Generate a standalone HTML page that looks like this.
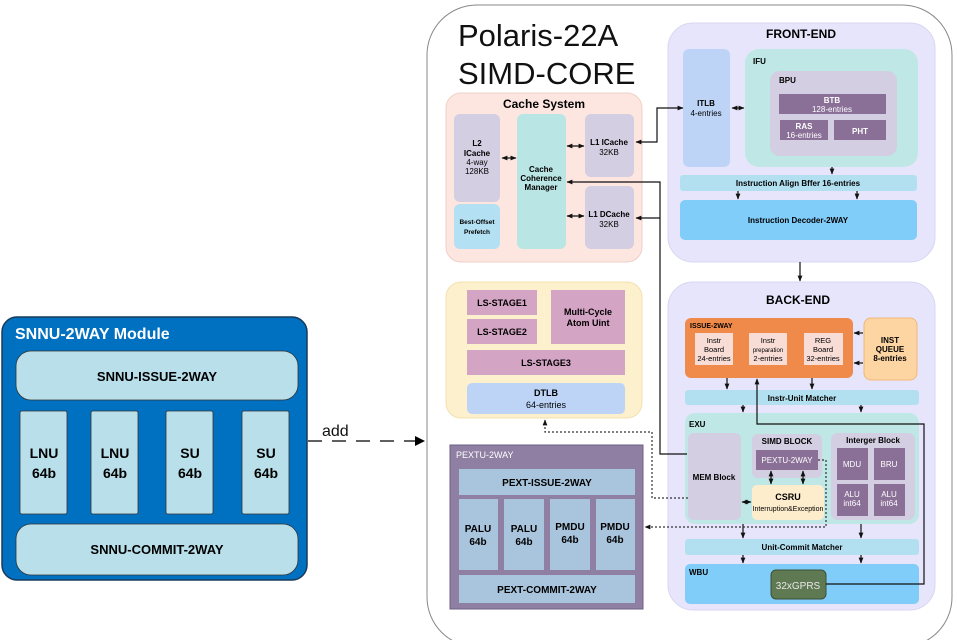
<!DOCTYPE html>
<html><head><meta charset="utf-8"><style>
html,body{margin:0;padding:0;background:#fff;width:957px;height:640px;overflow:hidden;}
svg{display:block;font-family:"Liberation Sans",Arial,sans-serif;}
.b{font-weight:bold;}
</style></head><body>
<svg width="957" height="640" viewBox="0 0 957 640" xmlns="http://www.w3.org/2000/svg">
<defs>
<marker id="a" viewBox="0 0 10 10" refX="9" refY="5" markerWidth="5" markerHeight="5" orient="auto-start-reverse"><path d="M0,1 L10,5 L0,9 z" fill="#111"/></marker>
<marker id="big" viewBox="0 0 10 10" refX="10" refY="5" markerWidth="14" markerHeight="10" markerUnits="userSpaceOnUse" orient="auto"><path d="M0,0 L10,5 L0,10 z" fill="#000"/></marker>
</defs>
<!-- outer core -->
<rect x="427" y="5" width="525" height="642" rx="50" fill="#fff" stroke="#888" stroke-width="1"/>
<text x="458" y="46" font-size="31" fill="#111">Polaris-22A</text>
<text x="458" y="84" font-size="31" fill="#111">SIMD-CORE</text>

<!-- Cache System -->
<rect x="446" y="93" width="196" height="169" rx="15" fill="#fce6df" stroke="#f0d0c8"/>
<text x="544" y="108" font-size="12" class="b" text-anchor="middle">Cache System</text>
<rect x="454" y="114" width="46" height="88" rx="6" fill="#d3cee2"/>
<text font-size="8" text-anchor="middle"><tspan x="477" y="146" class="b">L2</tspan><tspan x="477" y="156" class="b">ICache</tspan><tspan x="477" y="165">4-way</tspan><tspan x="477" y="174">128KB</tspan></text>
<rect x="454" y="204" width="46" height="45" rx="6" fill="#b3e0f2"/>
<text font-size="6.5" text-anchor="middle" class="b"><tspan x="477" y="224">Best-Offset</tspan><tspan x="477" y="234">Prefetch</tspan></text>
<rect x="517" y="114" width="49" height="135" rx="6" fill="#b9e6e4"/>
<text font-size="8" text-anchor="middle" class="b"><tspan x="541" y="172">Cache</tspan><tspan x="541" y="181">Coherence</tspan><tspan x="541" y="190">Manager</tspan></text>
<rect x="585" y="114" width="49" height="63" rx="6" fill="#d3cee2"/>
<text font-size="8" text-anchor="middle"><tspan x="609" y="145" class="b">L1 ICache</tspan><tspan x="609" y="155">32KB</tspan></text>
<rect x="585" y="186" width="49" height="63" rx="6" fill="#d3cee2"/>
<text font-size="8" text-anchor="middle"><tspan x="609" y="217" class="b">L1 DCache</tspan><tspan x="609" y="227">32KB</tspan></text>

<!-- LS -->
<rect x="446" y="282" width="196" height="136" rx="15" fill="#fdf0cd" stroke="#f3e0b0"/>
<rect x="467" y="290" width="70" height="25" fill="#d3a4c3"/>
<text x="502" y="306" font-size="9" class="b" text-anchor="middle">LS-STAGE1</text>
<rect x="467" y="319" width="70" height="25" fill="#d3a4c3"/>
<text x="502" y="335" font-size="9" class="b" text-anchor="middle">LS-STAGE2</text>
<rect x="551" y="290" width="74" height="54" fill="#d3a4c3"/>
<text font-size="9" class="b" text-anchor="middle"><tspan x="588" y="315">Multi-Cycle</tspan><tspan x="588" y="326">Atom Uint</tspan></text>
<rect x="467" y="350" width="158" height="25" fill="#d3a4c3"/>
<text x="546" y="366" font-size="9" class="b" text-anchor="middle">LS-STAGE3</text>
<rect x="467" y="383" width="158" height="31" rx="5" fill="#bdd4f7"/>
<text font-size="9" text-anchor="middle"><tspan x="546" y="396" class="b">DTLB</tspan><tspan x="546" y="408">64-entries</tspan></text>

<!-- PEXTU -->
<rect x="450" y="445" width="193" height="164" fill="#8e7fa3" stroke="#6e5f85"/>
<text x="456" y="458" font-size="9" fill="#fff">PEXTU-2WAY</text>
<rect x="459" y="469" width="176" height="26" fill="#a9c5dd"/>
<text x="547" y="486" font-size="10" class="b" text-anchor="middle">PEXT-ISSUE-2WAY</text>
<g font-size="10" class="b" text-anchor="middle">
<rect x="459" y="499" width="39" height="71" fill="#a9c5dd"/><text><tspan x="478" y="532">PALU</tspan><tspan x="478" y="545">64b</tspan></text>
<rect x="504" y="499" width="40" height="71" fill="#a9c5dd"/><text><tspan x="524" y="532">PALU</tspan><tspan x="524" y="545">64b</tspan></text>
<rect x="550" y="499" width="40" height="71" fill="#a9c5dd"/><text><tspan x="570" y="530">PMDU</tspan><tspan x="570" y="543">64b</tspan></text>
<rect x="596" y="499" width="39" height="71" fill="#a9c5dd"/><text><tspan x="615" y="530">PMDU</tspan><tspan x="615" y="543">64b</tspan></text>
</g>
<rect x="459" y="575" width="176" height="28" fill="#a9c5dd"/>
<text x="547" y="593" font-size="10" class="b" text-anchor="middle">PEXT-COMMIT-2WAY</text>

<!-- FRONT-END -->
<rect x="668" y="23" width="267" height="239" rx="25" fill="#e7e5fb" stroke="#d8d6f0"/>
<text x="801" y="38" font-size="12" class="b" text-anchor="middle">FRONT-END</text>
<rect x="683" y="49" width="47" height="118" rx="6" fill="#bdd4f7"/>
<text font-size="8" text-anchor="middle"><tspan x="706" y="106" class="b">ITLB</tspan><tspan x="706" y="116">4-entries</tspan></text>
<rect x="745" y="49" width="173" height="118" rx="14" fill="#bee7e6"/>
<text x="753" y="64" font-size="8" class="b">IFU</text>
<rect x="770" y="71" width="127" height="85" rx="10" fill="#d3cee2"/>
<text x="779" y="83" font-size="8" class="b">BPU</text>
<rect x="779" y="94" width="107" height="20" fill="#8a6f97"/>
<text font-size="8" fill="#fff" text-anchor="middle"><tspan x="832" y="103" class="b">BTB</tspan><tspan x="832" y="112">128-entries</tspan></text>
<rect x="780" y="120" width="48" height="20" fill="#8a6f97"/>
<text font-size="8" fill="#fff" text-anchor="middle"><tspan x="804" y="129" class="b">RAS</tspan><tspan x="804" y="138">16-entries</tspan></text>
<rect x="834" y="120" width="52" height="20" fill="#8a6f97"/>
<text x="860" y="134" font-size="8" fill="#fff" class="b" text-anchor="middle">PHT</text>
<rect x="680" y="175" width="237" height="16" rx="3" fill="#b3e0f0"/>
<text x="798" y="186" font-size="8" class="b" text-anchor="middle">Instruction Align Bffer 16-entries</text>
<rect x="680" y="200" width="237" height="40" rx="5" fill="#80cdfa"/>
<text x="798" y="223" font-size="8" class="b" text-anchor="middle">Instruction Decoder-2WAY</text>

<!-- BACK-END -->
<rect x="668" y="282" width="267" height="328" rx="25" fill="#e7e5fb" stroke="#d8d6f0"/>
<text x="798" y="304" font-size="12" class="b" text-anchor="middle">BACK-END</text>
<rect x="685" y="318" width="168" height="60" rx="6" fill="#f08a4b"/>
<text x="690" y="328" font-size="7" class="b">ISSUE-2WAY</text>
<g font-size="7.5" text-anchor="middle">
<rect x="695" y="333" width="38" height="32" fill="#f8dcd6"/><text><tspan x="714" y="343">Instr</tspan><tspan x="714" y="352">Board</tspan><tspan x="714" y="361">24-entries</tspan></text>
<rect x="749" y="333" width="38" height="32" fill="#f8dcd6"/><text><tspan x="768" y="343">Instr</tspan><tspan x="768" y="352" font-size="6">preparation</tspan><tspan x="768" y="361">2-entries</tspan></text>
<rect x="804" y="333" width="39" height="32" fill="#f8dcd6"/><text><tspan x="823" y="343">REG</tspan><tspan x="823" y="352">Board</tspan><tspan x="823" y="361">32-entries</tspan></text>
</g>
<rect x="864" y="318" width="53" height="62" rx="7" fill="#fdd5a2" stroke="#f0b878"/>
<text font-size="8" class="b" text-anchor="middle"><tspan x="890" y="343">INST</tspan><tspan x="890" y="352">QUEUE</tspan><tspan x="890" y="361">8-entries</tspan></text>
<rect x="685" y="390" width="234" height="15" rx="3" fill="#b3e0f0"/>
<text x="802" y="401" font-size="8" class="b" text-anchor="middle">Instr-Unit Matcher</text>
<rect x="685" y="413" width="234" height="111" rx="10" fill="#bee7e6"/>
<text x="689" y="427" font-size="8" class="b">EXU</text>
<rect x="688" y="433" width="53" height="87" rx="6" fill="#d3cee2"/>
<text x="714" y="480" font-size="8" class="b" text-anchor="middle">MEM Block</text>
<rect x="752" y="434" width="70" height="44" rx="6" fill="#d3cee2"/>
<text x="787" y="444" font-size="8" class="b" text-anchor="middle">SIMD BLOCK</text>
<rect x="756" y="450" width="62" height="20" fill="#8a6f97"/>
<text x="787" y="463" font-size="8" fill="#fff" text-anchor="middle">PEXTU-2WAY</text>
<rect x="752" y="485" width="72" height="35" rx="5" fill="#feedcd"/>
<text font-size="7" text-anchor="middle"><tspan x="788" y="500" font-size="9" class="b">CSRU</tspan><tspan x="788" y="511">Interruption&amp;Exception</tspan></text>
<rect x="831" y="433" width="84" height="87" rx="7" fill="#d3cee2"/>
<text x="873" y="443" font-size="8" class="b" text-anchor="middle">Interger Block</text>
<g font-size="8" fill="#fff" text-anchor="middle">
<rect x="837" y="448" width="31" height="32" fill="#8a6f97"/><text x="852" y="467">MDU</text>
<rect x="874" y="448" width="31" height="32" fill="#8a6f97"/><text x="889" y="467">BRU</text>
<rect x="837" y="484" width="31" height="32" fill="#8a6f97"/><text><tspan x="852" y="497">ALU</tspan><tspan x="852" y="506">int64</tspan></text>
<rect x="874" y="484" width="31" height="32" fill="#8a6f97"/><text><tspan x="889" y="497">ALU</tspan><tspan x="889" y="506">int64</tspan></text>
</g>
<rect x="685" y="539" width="234" height="16" rx="3" fill="#b3e0f0"/>
<text x="802" y="550" font-size="8" class="b" text-anchor="middle">Unit-Commit Matcher</text>
<rect x="685" y="564" width="234" height="40" rx="5" fill="#80cdfa"/>
<text x="689" y="575" font-size="8" class="b">WBU</text>
<rect x="771" y="570" width="55" height="29" rx="5" fill="#5f7a53" stroke="#3e5035"/>
<text x="798" y="589" font-size="10" fill="#e8e8e8" text-anchor="middle">32xGPRS</text>

<!-- connectors -->
<g stroke="#111" stroke-width="1.2" fill="none">
<path d="M683,108 H657 V142 H636" marker-start="url(#a)" marker-end="url(#a)"/>
<path d="M732,108 H744" marker-start="url(#a)" marker-end="url(#a)"/>
<path d="M502,158 H516" marker-start="url(#a)" marker-end="url(#a)"/>
<path d="M567,146 H584" marker-start="url(#a)" marker-end="url(#a)"/>
<path d="M567,216 H584" marker-start="url(#a)" marker-end="url(#a)"/>
<path d="M660,218 H636" marker-end="url(#a)"/>
<path d="M687,454 H660 V182 H567" marker-end="url(#a)"/>
<path d="M832,167 V174" marker-end="url(#a)"/>
<path d="M738,191 V199" marker-end="url(#a)"/>
<path d="M857,191 V199" marker-end="url(#a)"/>
<path d="M800,262 V281" marker-end="url(#a)"/>
<path d="M863,333 H854" marker-end="url(#a)"/>
<path d="M863,363 H854" marker-end="url(#a)"/>
<path d="M727,378 V389" marker-end="url(#a)"/>
<path d="M812,378 V389" marker-end="url(#a)"/>
<path d="M743,405 V412" marker-end="url(#a)"/>
<path d="M861,405 V412" marker-end="url(#a)"/>
<path d="M743,524 V538" marker-end="url(#a)"/>
<path d="M861,524 V538" marker-end="url(#a)"/>
<path d="M743,555 V563" marker-end="url(#a)"/>
<path d="M861,555 V563" marker-end="url(#a)"/>
<path d="M826,584 H924 V424 H757 V379" marker-end="url(#a)"/>
<path d="M742,502 H751" marker-start="url(#a)" marker-end="url(#a)"/>
<path d="M771,471 V484" marker-start="url(#a)" marker-end="url(#a)"/>
<path d="M803,471 V484" marker-start="url(#a)" marker-end="url(#a)"/>
</g>
<g stroke="#333" stroke-width="1.2" fill="none" stroke-dasharray="2,2">
<path d="M688,498 H652 V432 H545 V420" marker-end="url(#a)"/>
<path d="M818,460 H826 V527 H645" marker-end="url(#a)"/>
</g>

<!-- SNNU module -->
<rect x="2" y="317" width="305" height="263" rx="15" fill="#0070c0" stroke="#1a3a5a" stroke-width="1.5"/>
<text x="15" y="339" font-size="16" class="b" fill="#fff">SNNU-2WAY Module</text>
<rect x="16" y="351" width="282" height="49" rx="15" fill="#b8dfea" stroke="#333" stroke-width="0.8"/>
<text x="157" y="381" font-size="13" class="b" text-anchor="middle">SNNU-ISSUE-2WAY</text>
<g font-size="14" class="b" text-anchor="middle">
<rect x="20" y="411" width="47" height="103" rx="2" fill="#b8dfea" stroke="#333" stroke-width="0.8"/><text><tspan x="44" y="458">LNU</tspan><tspan x="44" y="478">64b</tspan></text>
<rect x="91" y="411" width="47" height="103" rx="2" fill="#b8dfea" stroke="#333" stroke-width="0.8"/><text><tspan x="115" y="458">LNU</tspan><tspan x="115" y="478">64b</tspan></text>
<rect x="166" y="411" width="47" height="103" rx="2" fill="#b8dfea" stroke="#333" stroke-width="0.8"/><text><tspan x="190" y="458">SU</tspan><tspan x="190" y="478">64b</tspan></text>
<rect x="242" y="411" width="47" height="103" rx="2" fill="#b8dfea" stroke="#333" stroke-width="0.8"/><text><tspan x="266" y="458">SU</tspan><tspan x="266" y="478">64b</tspan></text>
</g>
<rect x="16" y="524" width="282" height="51" rx="15" fill="#b8dfea" stroke="#333" stroke-width="0.8"/>
<text x="157" y="554" font-size="13" class="b" text-anchor="middle">SNNU-COMMIT-2WAY</text>

<!-- add arrow -->
<path d="M308,441 H425" stroke="#000" stroke-width="1.3" fill="none" stroke-dasharray="14,10" marker-end="url(#big)"/>
<text x="322" y="436" font-size="16" fill="#111">add</text>
</svg>
</body></html>
